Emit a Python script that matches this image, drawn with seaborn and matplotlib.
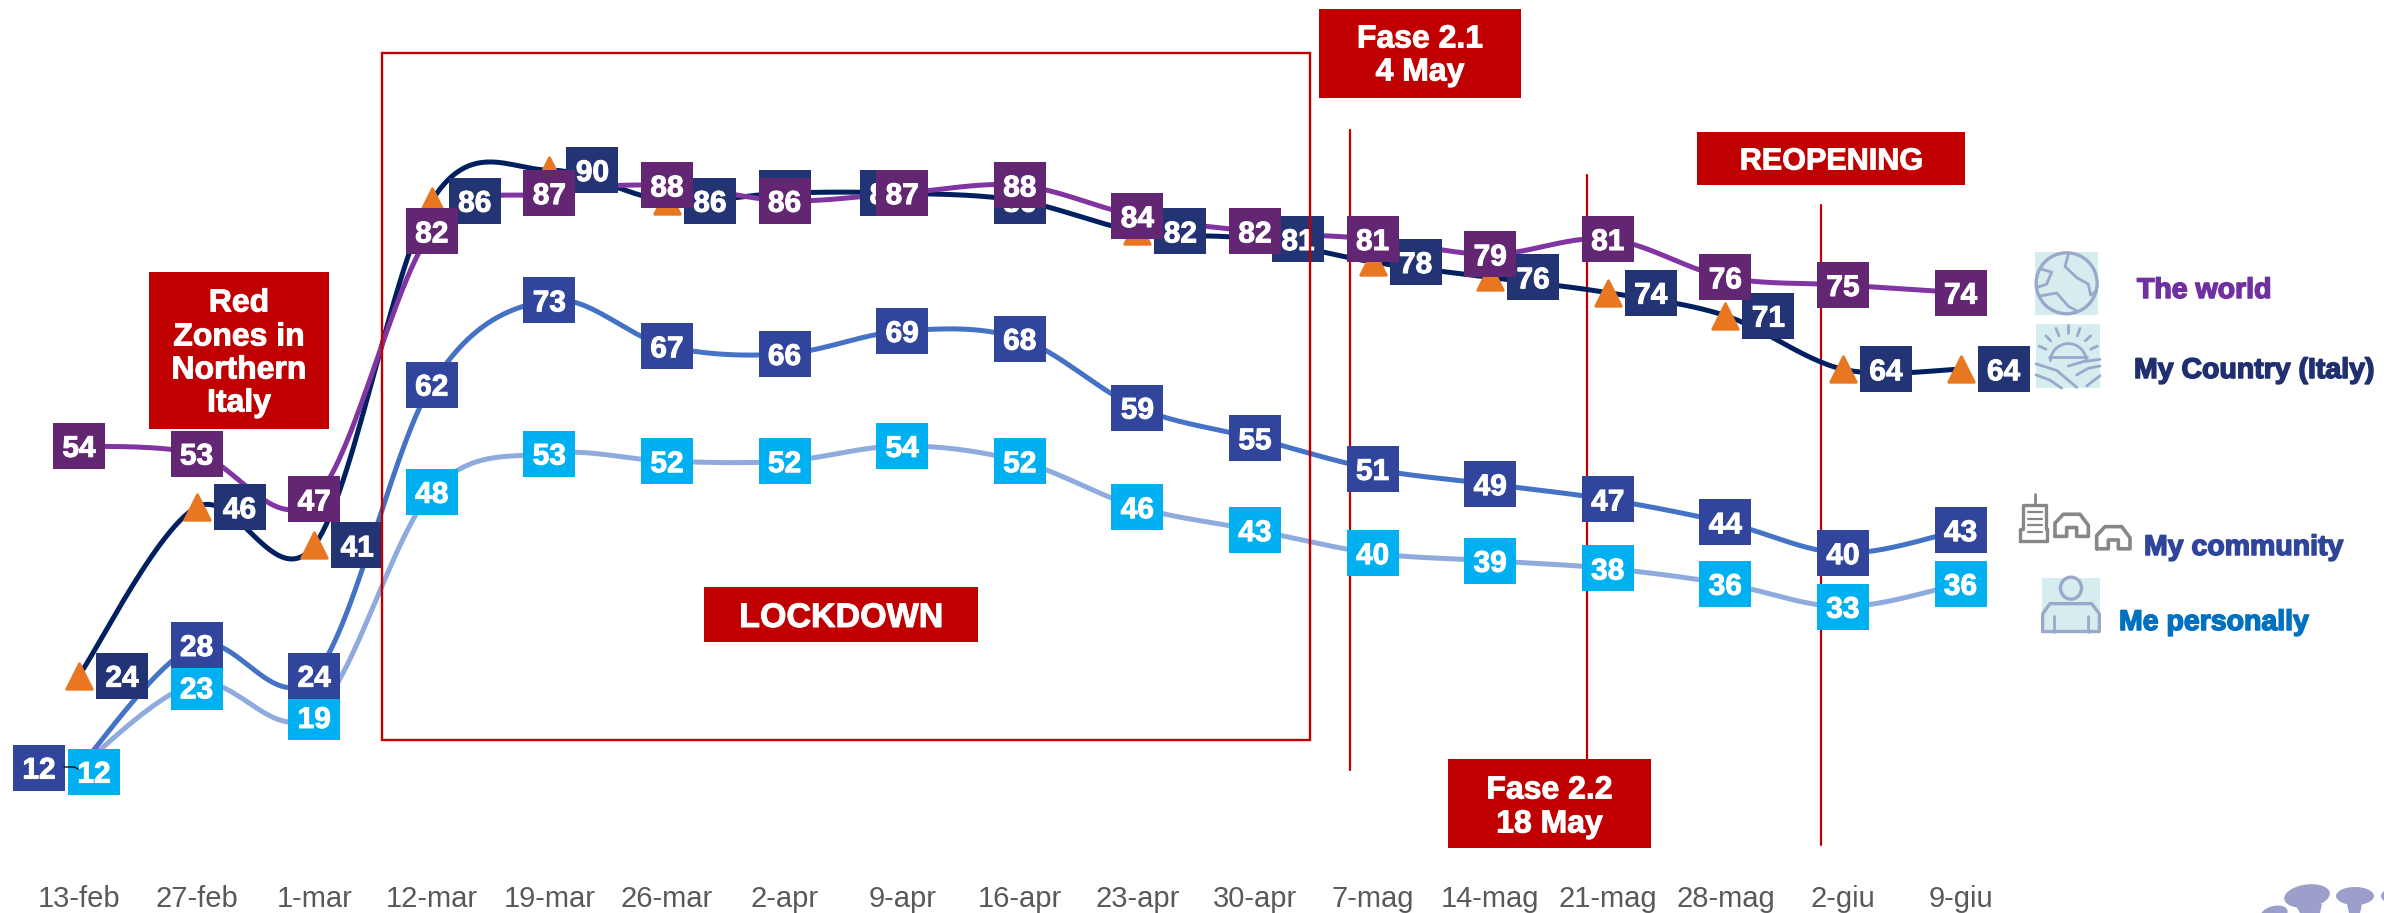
import numpy as np
import pandas as pd
import matplotlib
matplotlib.use("Agg")
import matplotlib.pyplot as plt
import matplotlib.patheffects as pe
from matplotlib.patches import Rectangle, Ellipse, Polygon, Arc
import seaborn as sns

dates = ["13-feb", "27-feb", "1-mar", "12-mar", "19-mar", "26-mar", "2-apr", "9-apr", "16-apr",
         "23-apr", "30-apr", "7-mag", "14-mag", "21-mag", "28-mag", "2-giu", "9-giu"]
world = [54, 53, 47, 82, 87, 88, 86, 87, 88, 84, 82, 81, 79, 81, 76, 75, 74]
country = [24, 46, 41, 86, 90, 86, 87, 87, 86, 82, 81, 78, 76, 74, 71, 64, 64]
community = [12, 28, 24, 62, 73, 67, 66, 69, 68, 59, 55, 51, 49, 47, 44, 40, 43]
personal = [12, 23, 19, 48, 53, 52, 52, 54, 52, 46, 43, 40, 39, 38, 36, 33, 36]

W, H = 2384, 913
RED = "#C00000"
ICON = "#9BA8CC"
ICON_BG = "#D5EDEE"
GREY_ICON = "#878787"

# pixel layout of the category and value scales
X0, X_STEP = 79.0, 117.6
Y0, Y_STEP = 859.5, 7.66
AX_BOTTOM = 870

sns.set_theme(style="white")
plt.rcParams["font.family"] = ["Liberation Sans", "DejaVu Sans"]

fig = plt.figure(figsize=(W / 100, H / 100), dpi=100, facecolor="white")


def pixel_axes(z):
    a = fig.add_axes([0, 0, 1, 1], zorder=z)
    a.set_xlim(0, W)
    a.set_ylim(H, 0)
    a.axis("off")
    a.patch.set_alpha(0)
    return a


bg = pixel_axes(0)
fg = pixel_axes(2)
ax = fig.add_axes([0, 1 - AX_BOTTOM / H, 1, AX_BOTTOM / H], zorder=1)
ax.patch.set_alpha(0)


def smooth(xs, ys, n=30):
    # same look as the office "smoothed line": Catmull-Rom through the read values
    p = np.column_stack([xs, ys]).astype(float)
    p = np.vstack([p[0], p, p[-1]])
    out = []
    t = np.linspace(0, 1, n)[:, None]
    for i in range(1, len(p) - 2):
        a, b = p[i], p[i + 1]
        c1 = a + (p[i + 1] - p[i - 1]) / 6
        c2 = b - (p[i + 2] - p[i]) / 6
        out.append((1 - t) ** 3 * a + 3 * (1 - t) ** 2 * t * c1 + 3 * (1 - t) * t ** 2 * c2 + t ** 3 * b)
    out = np.vstack(out)
    return out[:, 0], out[:, 1]


# series are listed bottom to top, the later ones cover the earlier ones
names = ["Me personally", "My community", "My Country (Italy)", "The world"]
values = [personal, community, country, world]
line_colors = ["#8FAADC", "#4472C4", "#002060", "#8035A0"]
box_colors = ["#00B0F0", "#30459B", "#233475", "#632673"]

pos = np.arange(len(dates))
frames = [pd.DataFrame({"pos": pos, "value": v, "series": n}) for n, v in zip(names, values)]
df = pd.concat(frames, ignore_index=True)

sns.lineplot(data=df, x="pos", y="value", hue="series", hue_order=names,
             palette=dict(zip(names, line_colors)), linewidth=3.6, legend=False, ax=ax, zorder=2)
for line, v in zip(ax.lines, values):
    line.set_data(*smooth(pos, v))
    line.set_solid_capstyle("round")

sns.scatterplot(x=pos, y=country, marker="^", s=340, color="#E97722", edgecolor="#E97722",
                linewidth=2, ax=ax, zorder=5.5, legend=False)

# value boxes: offsets in pixels from the point, most labels sit on their point
country_dx = [43] * len(dates)
country_dx[6] = 0
country_dx[7] = -16
country_dx[8] = 0
label_dx = {"Me personally": [15] + [0] * 16,
            "My community": [-40] + [0] * 16,
            "My Country (Italy)": country_dx,
            "The world": [0] * 17}
label_dy = {"Me personally": [-4, -4, -3] + [0] * 14,
            "My community": [0] * 17,
            "My Country (Italy)": [0] * 17,
            "The world": [0] * 17}
box_marker = [(-26, -23), (26, -23), (26, 23), (-26, 23)]
thick = [pe.withStroke(linewidth=0.7, foreground="white")]

for k, (name, v, col) in enumerate(zip(names, values, box_colors)):
    lx = pos + np.array(label_dx[name]) / X_STEP
    ly = np.array(v) + np.array(label_dy[name]) / Y_STEP
    z = 4 + k * 0.5 + (0.5 if k >= 2 else 0)
    sns.scatterplot(x=lx, y=ly, marker=box_marker, s=(52 * 0.72) ** 2, color=col, linewidth=0,
                    ax=ax, zorder=z, legend=False)
    for x, y, val in zip(lx, ly, v):
        ax.text(x, y, str(val), color="white", fontsize=21.5, fontweight="bold", ha="center",
                va="center_baseline", zorder=z + 0.1, path_effects=thick)

ax.set_xlim(-X0 / X_STEP, (W - X0) / X_STEP)
ax.set_ylim((Y0 - AX_BOTTOM) / Y_STEP, Y0 / Y_STEP)
ax.set_xticks(pos, dates)
ax.set_yticks([])
ax.set_xlabel("")
ax.set_ylabel("")
ax.tick_params(axis="x", length=0, pad=10.5, labelsize=21, labelcolor="#595959")
sns.despine(ax=ax, left=True, bottom=True)

# phase markers
for x, top, bottom in [(1350, 130, 770), (1587, 175, 760), (1821, 205, 845)]:
    bg.plot([x, x], [top, bottom], color=RED, lw=1.6)

fg.add_patch(Rectangle((382, 53), 928, 687, fill=False, edgecolor=RED, lw=1.7))


def red_box(x0, y0, x1, y1, lines, size, line_ys):
    fg.add_patch(Rectangle((x0, y0), x1 - x0, y1 - y0, facecolor=RED, edgecolor="none"))
    for txt, y in zip(lines, line_ys):
        fg.text((x0 + x1) / 2, y, txt, color="white", fontsize=size, fontweight="bold",
                ha="center", va="center_baseline", path_effects=thick)


red_box(149, 272, 329, 429, ["Red", "Zones in", "Northern", "Italy"], 23, [300, 334, 367, 400])
red_box(704, 587, 978, 642, ["LOCKDOWN"], 24.5, [615])
red_box(1319, 9, 1521, 98, ["Fase 2.1", "4 May"], 23, [36, 69])
red_box(1448, 759, 1651, 848, ["Fase 2.2", "18 May"], 23, [787, 821])
red_box(1697, 132, 1965, 185, ["REOPENING"], 22, [158])

# little leader between the two 12 boxes
fg.plot([64, 74, 78], [767, 767, 769], color="black", lw=0.9)

# legend texts
legend_items = [("The world", 2137, 288, "#7030A0"),
                ("My Country (Italy)", 2134, 368, "#1F2F70"),
                ("My community", 2144, 545, "#2F459C"),
                ("Me personally", 2119, 620, "#0070C0")]
for txt, x, y, col in legend_items:
    fg.text(x, y, txt, color=col, fontsize=20.5, fontweight="bold", ha="left", va="center_baseline",
            path_effects=[pe.withStroke(linewidth=1.1, foreground=col)])


# icons, sketched in the coordinates of the legend crop
def iz(x, y):
    return 1900 + x / 3, 220 + y / 2.26


def icon_line(pts, col=ICON, lw=2.0):
    xy = np.array([iz(*p) for p in pts])
    fg.plot(xy[:, 0], xy[:, 1], color=col, lw=lw, solid_capstyle="round", solid_joinstyle="round")


def icon_bg(x0, y0, x1, y1):
    a, b = iz(x0, y0), iz(x1, y1)
    fg.add_patch(Rectangle(a, b[0] - a[0], b[1] - a[1], facecolor=ICON_BG, edgecolor="none"))


# globe
icon_bg(405, 72, 594, 215)
fg.add_patch(Ellipse(iz(500, 143), 61, 61, fill=False, edgecolor=ICON, lw=2.4))
icon_line([(505, 78), (495, 105), (530, 130), (565, 145), (572, 170), (590, 160)])
icon_line([(420, 110), (455, 118), (440, 145), (412, 152)])
icon_line([(418, 172), (470, 165), (505, 195), (530, 205)])

# sun over the fields
icon_bg(408, 235, 600, 380)
fg.add_patch(Arc(iz(505, 320), 36, 36, theta1=180, theta2=360, edgecolor=ICON, lw=2.0))
for p, q in [((505, 237), (505, 255)), ((468, 245), (477, 262)), ((438, 262), (452, 273)),
             ((417, 285), (438, 292)), ((540, 245), (532, 262)), ((572, 262), (556, 273)),
             ((592, 285), (572, 292))]:
    icon_line([p, q])
icon_line([(448, 310), (560, 310)])
icon_line([(408, 325), (470, 340), (530, 378)])
icon_line([(408, 350), (450, 362), (485, 380)])
icon_line([(505, 330), (550, 320), (600, 315)])
icon_line([(530, 350), (565, 335), (600, 330)])
icon_line([(560, 375), (600, 352)])

# town
icon_line([(404, 620), (404, 640)], GREY_ICON)
icon_line([(360, 725), (360, 698), (370, 698), (370, 645), (438, 645), (438, 698), (442, 698),
           (442, 725), (360, 725)], GREY_ICON, 2.4)
for yy in [660, 675, 690, 705]:
    icon_line([(385, yy), (425, yy)], GREY_ICON, 1.6)
house = [(465, 715), (465, 685), (490, 665), (540, 665), (565, 690), (565, 715), (530, 715),
         (530, 695), (500, 695), (500, 715), (465, 715)]
icon_line(house, GREY_ICON, 2.6)
icon_line([(a + 125, b + 28) for a, b in house], GREY_ICON, 2.6)

# person
icon_bg(426, 808, 600, 933)
fg.add_patch(Ellipse(iz(513, 832), 21, 22, fill=False, edgecolor=ICON, lw=2.4))
icon_line([(428, 930), (428, 890), (450, 867), (575, 867), (598, 890), (598, 930), (428, 930)], ICON, 2.4)
icon_line([(463, 895), (463, 930)])
icon_line([(565, 895), (565, 930)])

# corner of the logo, cut by the frame
LOGO = "#9B9FC9"
fg.add_patch(Ellipse((2307, 896), 46, 23, angle=-8, facecolor=LOGO, edgecolor="none"))
fg.add_patch(Polygon([(2296, 906), (2322, 904), (2320, 913), (2300, 913)], facecolor=LOGO, edgecolor="none"))
fg.add_patch(Ellipse((2355, 896), 38, 18, facecolor=LOGO, edgecolor="none"))
fg.add_patch(Polygon([(2347, 904), (2362, 904), (2360, 913), (2349, 913)], facecolor=LOGO, edgecolor="none"))
fg.add_patch(Ellipse((2274, 914), 28, 16, angle=-15, facecolor=LOGO, edgecolor="none"))
fg.add_patch(Ellipse((2392, 896), 22, 14, facecolor=LOGO, edgecolor="none"))

fig.savefig("out.png", dpi=100)
